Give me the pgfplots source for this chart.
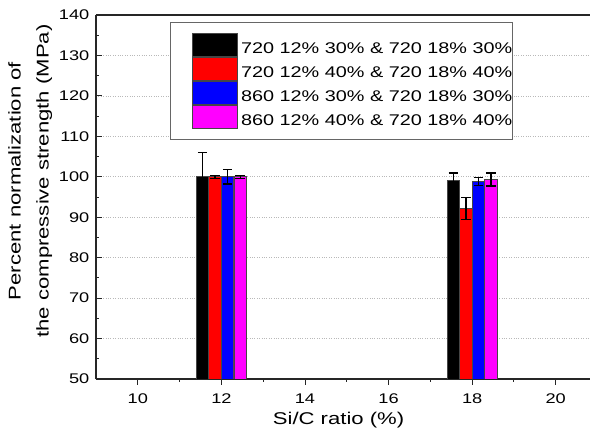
\documentclass[border=0pt]{standalone}
\usepackage{fontspec}
\setmainfont{Liberation Sans}
\usepackage{graphicx}
\usepackage{pgfplots}
\pgfplotsset{compat=1.18}
\newcommand\wide[1]{\scalebox{1.3}[1]{#1}}
\newcommand\lwide[1]{\scalebox{1.28}[1]{#1}}
\definecolor{edge}{RGB}{70,70,70}
\definecolor{cred}{RGB}{255,0,0}
\definecolor{cblue}{RGB}{0,0,255}
\definecolor{cmag}{RGB}{255,0,255}
\definecolor{cblack}{RGB}{0,0,0}
\pgfplotsset{errstyle/.style={error bars/.cd, y dir=both, y explicit,
  error bar style={line width=1.3pt, draw=black, solid},
  error mark options={rotate=90, line width=1.3pt, mark size=4.7pt, draw=black, solid}}}
\begin{document}
\begin{tikzpicture}
\begin{axis}[
  scale only axis,
  width=494pt, height=364pt,
  at={(0,0)}, anchor=south west,
  xmin=9, xmax=20.82, ymin=50, ymax=140,
  axis x line=box, axis y line=left,
  axis line style={-, draw=black!85, line width=1.1pt},
  xtick pos=left, ytick pos=left,
  xtick={10,12,14,16,18,20}, ytick={50,60,...,140},
  minor x tick num=1, minor y tick num=1,
  tick align=inside,
  major tick length=6pt, minor tick length=3pt,
  tick style={black!85, line width=0.9pt},
  ymajorgrids,
  major grid style={dotted, gray!55, line width=0.6pt},
  /pgf/number format/assume math mode=true,
  tick label style={font=\fontsize{14}{16}\selectfont},
  xticklabel={\wide{\pgfmathprintnumber{\tick}}},
  yticklabel={\wide{\pgfmathprintnumber{\tick}}},
  xticklabel style={inner sep=0pt, anchor=north, yshift=-9pt},
  yticklabel style={inner sep=0pt, anchor=east, xshift=-6.5pt},
  xlabel={\wide{Si/C ratio (\%)}},
  xlabel style={font=\fontsize{17}{20}\selectfont, at={(axis description cs:0.491,0)}, anchor=north, inner sep=0pt, yshift=-32.5pt},
  ylabel={\wide{Percent normalization of}\\\wide{the compressive strength (MPa)}},
  ylabel style={font=\fontsize{17}{28}\selectfont, align=center, at={(axis description cs:-0.133,0.544)}, anchor=center, inner sep=0pt, rotate=0},
  ybar, bar width=12.5pt,
  every axis plot/.append style={draw=edge, line width=0.8pt},
  legend image code/.code={\path (-21pt,0);\draw[#1] (0pt,-7.8pt) rectangle (45.3pt,14.8pt);},
  legend cell align=left,
  legend style={at={(axis description cs:0.1498,0.9807)}, anchor=north west,
    draw=black!60, line width=0.9pt, fill=white,
    inner xsep=0.5pt, inner ysep=10.8pt,
    nodes={inner sep=0pt},
    row sep=0.6pt,
    font=\fontsize{15.5}{18}\selectfont,
    /tikz/every odd column/.append style={column sep=3pt}},
]
\addplot[fill=cblack, bar shift=-18.8pt, errstyle]
  coordinates {(12,100) +- (0,6.0) (18,99.2) +- (0,1.7)};
\addlegendentry{\lwide{720 12\% 30\% \& 720 18\% 30\%}}
\addplot[fill=cred, bar shift=-6.27pt, errstyle]
  coordinates {(12,100) +- (0,0.4) (18,92.2) +- (0,2.75)};
\addlegendentry{\lwide{720 12\% 40\% \& 720 18\% 40\%}}
\addplot[fill=cblue, bar shift=6.27pt, errstyle]
  coordinates {(12,100) +- (0,1.75) (18,98.8) +- (0,0.95)};
\addlegendentry{\lwide{860 12\% 30\% \& 720 18\% 30\%}}
\addplot[fill=cmag, bar shift=18.8pt, errstyle]
  coordinates {(12,100) +- (0,0.4) (18,99.3) +- (0,1.6)};
\addlegendentry{\lwide{860 12\% 40\% \& 720 18\% 40\%}}
\end{axis}
\pgfresetboundingbox
\useasboundingbox (-96pt,-57pt) rectangle (494pt,379pt);
\end{tikzpicture}
\end{document}
